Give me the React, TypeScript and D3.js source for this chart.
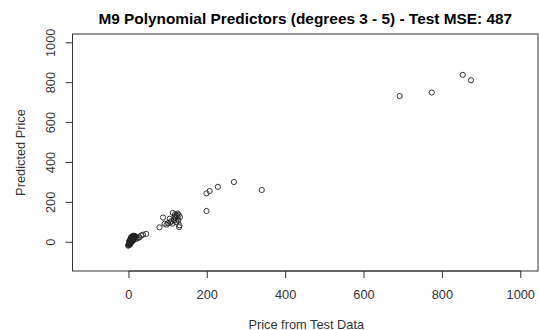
import React from "react";
import * as d3 from "d3";

const chartTitle = "M9 Polynomial Predictors (degrees 3 - 5) - Test MSE: 487";
const xLabel = "Price from Test Data";
const yLabel = "Predicted Price";
const xTicks = [0, 200, 400, 600, 800, 1000];
const yTicks = [0, 200, 400, 600, 800, 1000];

// Actual test prices
const actual = [
  // low-price cluster
  -2, 0, 1, 2, 3, 4, 5, 6, 7, 8, 9, 10, 11, 12, 13, 14, 15, 1, 3, 5, 7, 9, 11, 13,
  2, 4, 6, 8, 10, 12, 0, 2, 4, 6, 8, 10, 14, 16, 18,
  -1, 1, 3, 5, 7, 9, 0, 2, 4, 6, 8, 10, 12, 1, 3, 5, 7, 9, 11, 5, 7, 9, 11, 3, 4, 6,
  19, 23, 27, 31, 36, 44,
  // mid cluster
  78, 87, 91, 96, 100, 104, 108, 111, 112, 115, 117, 119, 121, 122, 124, 125, 127, 128,
  129, 130, 118, 106, 126,
  // high tail
  198, 198, 206, 227, 268, 339,
  691, 773, 852, 873,
];

// Model predictions
const predicted = [
  -17, -10, -6, -2, 2, 5, 8, 11, 14, 17, 20, 23, 25, 27, 28, 30, 31, 2, 6, 10, 14, 18, 22, 24,
  -8, -4, 0, 4, 8, 12, -12, -6, -2, 3, 12, 16, 22, 24, 28,
  -14, -9, -5, -1, 6, 9, -4, 1, 5, 9, 15, 19, 18, 6, 12, 16, 20, 24, 28, 24, 27, 30, 33, -12, 8, 14,
  17, 22, 25, 34, 38, 42,
  75, 124, 93, 88, 96, 118, 106, 93, 147, 110, 130, 122, 101, 135, 144, 115, 137, 76,
  85, 126, 140, 100, 108,
  157, 245, 257, 278, 302, 262,
  733, 751, 839, 812,
];

export default function App() {
  const width = 539;
  const height = 330;
  const box = { left: 72.5, right: 538, top: 34, bottom: 271 };

  const x = d3.scaleLinear().domain([-144, 1044]).range([box.left, box.right]);
  const y = d3.scaleLinear().domain([-144, 1044]).range([box.bottom, box.top]);

  const points = actual.map((a, i) => ({ a, p: predicted[i] }));
  const axisColor = "#333";
  const font = "'Liberation Sans', Arial, sans-serif";

  return (
    <svg
      width={width}
      height={height}
      style={{ position: "absolute", left: 0, top: 0, background: "#fff" }}
      fontFamily={font}
    >
      <rect x={0} y={0} width={width} height={height} fill="#fff" />
      <text
        x={(box.left + box.right) / 2}
        y={23.5}
        textAnchor="middle"
        fontSize={15.4}
        fontWeight="bold"
        fill="#000"
      >
        {chartTitle}
      </text>

      {/* plot frame */}
      <rect
        x={box.left}
        y={box.top}
        width={box.right - box.left}
        height={box.bottom - box.top}
        fill="none"
        stroke={axisColor}
        strokeWidth={1}
      />

      {/* x axis */}
      <line x1={x(0)} x2={x(1000)} y1={box.bottom} y2={box.bottom} stroke={axisColor} />
      {xTicks.map((t) => (
        <g key={"xt" + t}>
          <line x1={x(t)} x2={x(t)} y1={box.bottom} y2={box.bottom + 7} stroke={axisColor} />
          <text x={x(t)} y={298.5} textAnchor="middle" fontSize={12.8} fill={axisColor}>
            {t}
          </text>
        </g>
      ))}
      <text x={(box.left + box.right) / 2 + 1} y={328.5} textAnchor="middle" fontSize={12.8} fill={axisColor}>
        {xLabel}
      </text>

      {/* y axis */}
      <line x1={box.left} x2={box.left} y1={y(0)} y2={y(1000)} stroke={axisColor} />
      {yTicks.map((t) => (
        <g key={"yt" + t}>
          <line x1={box.left - 7} x2={box.left} y1={y(t)} y2={y(t)} stroke={axisColor} />
          <text
            transform={`translate(${54.5},${y(t)}) rotate(-90)`}
            textAnchor="middle"
            fontSize={12.8}
            fill={axisColor}
          >
            {t}
          </text>
        </g>
      ))}
      <text
        transform={`translate(${24.5},${(box.top + box.bottom) / 2}) rotate(-90)`}
        textAnchor="middle"
        fontSize={12.8}
        fill={axisColor}
      >
        {yLabel}
      </text>

      {/* points */}
      {points.map((d, i) => (
        <circle
          key={i}
          cx={x(d.a)}
          cy={y(d.p)}
          r={2.6}
          fill="none"
          stroke="#222"
          strokeWidth={0.9}
        />
      ))}
    </svg>
  );
}
